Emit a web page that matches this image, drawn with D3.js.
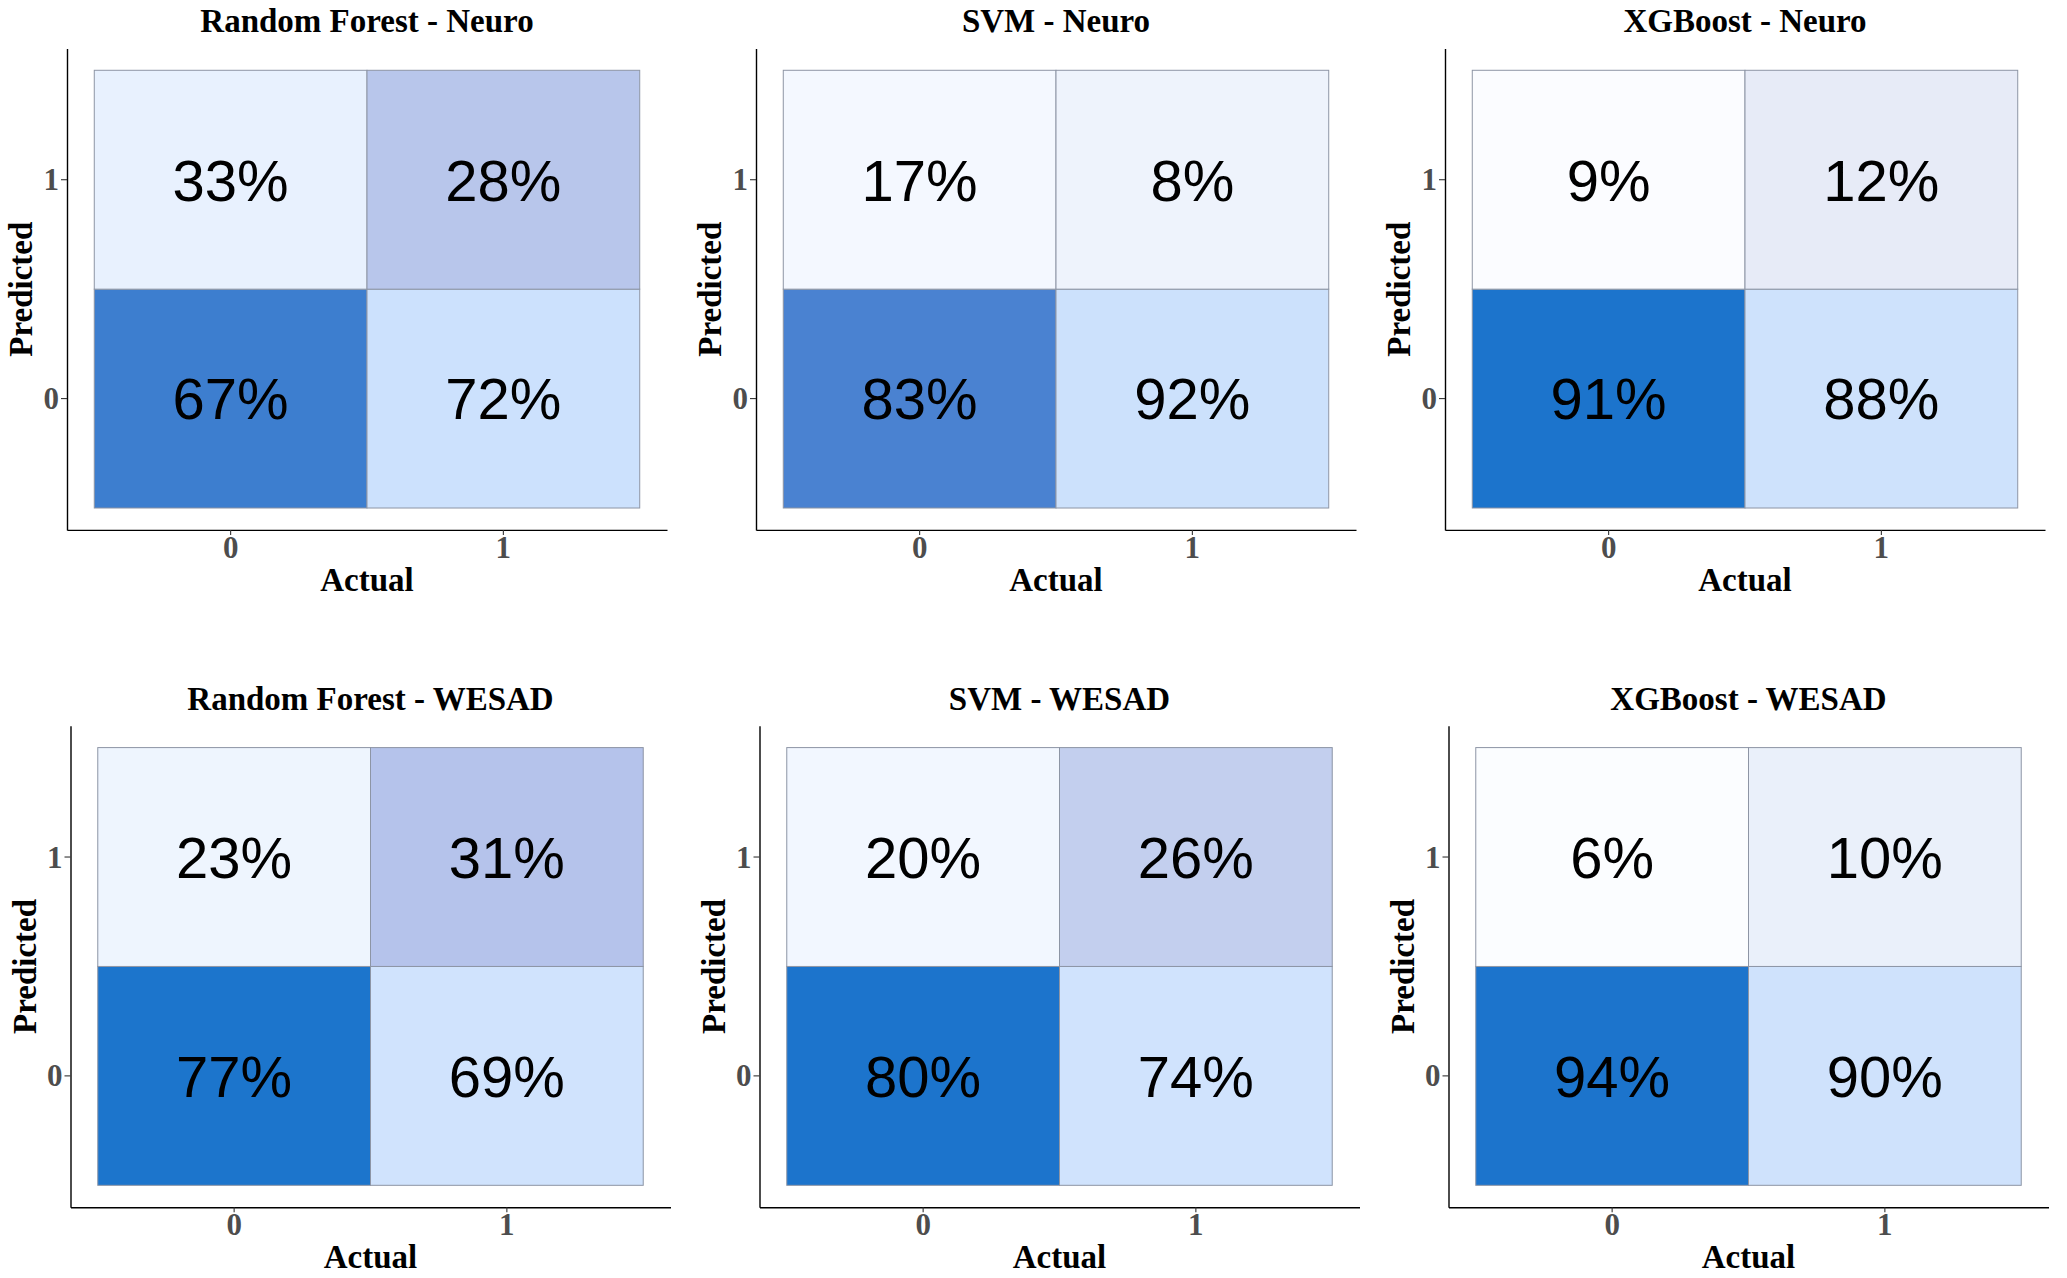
<!doctype html>
<html>
<head>
<meta charset="utf-8">
<script src="https://cdnjs.cloudflare.com/ajax/libs/d3/7.8.5/d3.min.js"></script>
<style>
  body { margin: 0; background: #fff; }
  svg { display: block; }
  .title, .axis-title { font-family: "Liberation Serif", "Times New Roman", serif; font-weight: bold; fill: #000; }
  .tick text { font-family: "Liberation Serif", "Times New Roman", serif; font-weight: bold; fill: #4d4d4d; }
  .cell-label { font-family: "Liberation Sans", Arial, Helvetica, sans-serif; fill: #000; }
</style>
</head>
<body>
<svg id="chart" width="2067" height="1278"></svg>
<script>
// levels of the two axes
const actualLevels = ["0", "1"];
const predictedLevels = ["0", "1"];

// cell order: (actual 0, pred 0), (actual 1, pred 0), (actual 0, pred 1), (actual 1, pred 1)
const cellActual = ["0", "1", "0", "1"];
const cellPredicted = ["0", "0", "1", "1"];

const rfNeuro = [67, 72, 33, 28];
const svmNeuro = [83, 92, 17, 8];
const xgbNeuro = [91, 88, 9, 12];
const rfWesad = [77, 69, 23, 31];
const svmWesad = [80, 74, 20, 26];
const xgbWesad = [94, 90, 6, 10];

const panelTitles = ["Random Forest - Neuro", "SVM - Neuro", "XGBoost - Neuro",
                     "Random Forest - WESAD", "SVM - WESAD", "XGBoost - WESAD"];
const panelValues = [rfNeuro, svmNeuro, xgbNeuro, rfWesad, svmWesad, xgbWesad];

// tile colours, same cell order as above
const tileFills = [
  ["#3d7ecf", "#cce1fd", "#e8f1fe", "#b8c6eb"],
  ["#4a82d1", "#cce1fc", "#f4f8ff", "#eef3fc"],
  ["#1c74cc", "#cee2fc", "#fbfcff", "#e7ebf7"],
  ["#1c75cc", "#d0e3fd", "#eef5fe", "#b5c3eb"],
  ["#1c74cc", "#d0e3fd", "#f2f7ff", "#c3cfee"],
  ["#1c74cc", "#cfe2fc", "#fbfdff", "#eaf0fa"]
];

const svg = d3.select("#chart");

const panelStep = 689;
const plotW = 600, plotH = 481.5;
const rowLeft = [67, 70.5];
const rowTop = [48.4, 725.7];

const x = d3.scaleBand().domain(actualLevels).range([0, plotW]).paddingInner(0).paddingOuter(0.1);
const y = d3.scaleBand().domain(predictedLevels.slice().reverse()).range([0, plotH]).paddingInner(0).paddingOuter(0.1);

panelValues.forEach(function(vals, p) {
  const row = Math.floor(p / 3), col = p % 3;
  const left = rowLeft[row] + col * panelStep;
  const top = rowTop[row];

  const cells = vals.map((v, i) => ({ key: cellActual[i] + "-" + cellPredicted[i], actual: cellActual[i], pred: cellPredicted[i], value: v }));
  const colour = d3.scaleOrdinal().domain(cells.map(d => d.key)).range(tileFills[p]);

  const g = svg.append("g").attr("transform", "translate(" + left + "," + top + ")");

  g.selectAll("rect.tile")
    .data(cells)
    .enter()
    .append("rect")
      .attr("class", "tile")
      .attr("x", d => x(d.actual))
      .attr("y", d => y(d.pred))
      .attr("width", x.bandwidth())
      .attr("height", y.bandwidth())
      .attr("fill", d => colour(d.key))
      .attr("stroke", "#8d95a5")
      .attr("stroke-width", 1);

  g.selectAll("text.cell-label")
    .data(cells)
    .enter()
    .append("text")
      .attr("class", "cell-label")
      .attr("x", d => x(d.actual) + x.bandwidth() / 2)
      .attr("y", d => y(d.pred) + y.bandwidth() / 2)
      .attr("dy", "0.36em")
      .attr("text-anchor", "middle")
      .style("font-size", "58px")
      .text(d => d.value + "%");

  // axes
  const xAxis = g.append("g")
    .attr("transform", "translate(0," + plotH + ")")
    .call(d3.axisBottom(x).tickSize(5).tickSizeOuter(0).tickPadding(4));
  const yAxis = g.append("g")
    .call(d3.axisLeft(y).tickSize(6).tickSizeOuter(0).tickPadding(2));

  [xAxis, yAxis].forEach(function(a) {
    a.select(".domain").attr("stroke", "#000").attr("stroke-width", 1.4);
    a.selectAll(".tick line").attr("stroke", "#333").attr("stroke-width", 1.1);
    a.selectAll(".tick text").style("font-size", "31px");
  });
  xAxis.selectAll(".tick text").attr("dy", "0.61em");
  yAxis.selectAll(".tick text").attr("dy", "0.34em");

  // titles
  g.append("text")
    .attr("class", "title")
    .attr("x", plotW / 2)
    .attr("y", -16)
    .attr("text-anchor", "middle")
    .style("font-size", "33px")
    .text(panelTitles[p]);

  g.append("text")
    .attr("class", "axis-title")
    .attr("x", plotW / 2)
    .attr("y", plotH + 61)
    .attr("text-anchor", "middle")
    .style("font-size", "33px")
    .text("Actual");

  g.append("text")
    .attr("class", "axis-title")
    .attr("transform", "translate(-35," + (plotH / 2) + ") rotate(-90)")
    .attr("text-anchor", "middle")
    .style("font-size", "33px")
    .text("Predicted");
});
</script>
</body>
</html>
